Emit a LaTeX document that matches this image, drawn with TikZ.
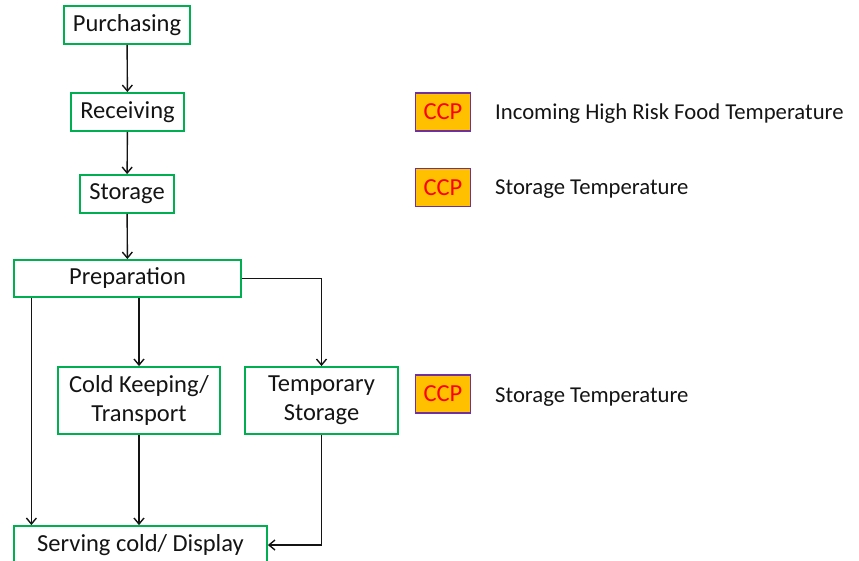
\documentclass[tikz,border=0pt]{standalone}
\usepackage{fontspec}
\setmainfont{Carlito}
\usepackage{tikz}
\usetikzlibrary{positioning, arrows.meta, calc}
\definecolor{verde}{RGB}{0, 176, 80}
\definecolor{ambar}{RGB}{255, 192, 0}
\definecolor{morado}{RGB}{112, 48, 160}
\definecolor{rojo}{RGB}{255, 0, 0}
\definecolor{tinta}{RGB}{20, 20, 20}
\tikzset{
    proc/.style={draw=verde, line width=1.8pt, fill=white, text=tinta, inner sep=0pt, align=center,
                 font=\fontsize{24.5}{29}\selectfont},
    ccp/.style={draw=morado, line width=1.8pt, fill=ambar, text=rojo, inner sep=0pt,
                minimum width=55pt, minimum height=38pt, font=\fontsize{24.5}{29}\selectfont},
    lbl/.style={anchor=west, text=tinta, inner sep=0pt, font=\fontsize{22.7}{27}\selectfont},
    conn/.style={-{Straight Barb[length=6pt, width=10pt]}, line width=1.4pt, tinta},
}

\begin{document}
\begin{tikzpicture}[x=1pt, y=-1pt]
    \path[use as bounding box, clip] (0,0) rectangle (859,561);

    % process steps
    \node[proc, minimum width=126pt, minimum height=38pt] (purch) at (127,25) {Purchasing};
    \node[proc, minimum width=113pt, minimum height=38pt] (recv) at (127.5,112) {Receiving};
    \node[proc, minimum width=94pt, minimum height=38pt] (stor) at (127,194) {Storage};
    \node[proc, minimum width=227pt, minimum height=37pt] (prep) at (127.5,278.5) {Preparation};
    \node[proc, minimum width=162pt, minimum height=67pt] (cold) at (139,400.5) {Cold Keeping/\\Transport};
    \node[proc, minimum width=153pt, minimum height=67pt] (temp) at (321.5,400.5) {Temporary\\Storage};
    \node[proc, minimum width=253pt, minimum height=38pt] (serve) at (140.5,545) {Serving cold/ Display};

    % critical control points
    \node[ccp] (ccp1) at (443,112) {CCP};
    \node[ccp] (ccp2) at (443,187.5) {CCP};
    \node[ccp] (ccp3) at (443,394) {CCP};
    \node[lbl] (txt1) at (495,113.5) {Incoming High Risk Food Temperature};
    \node[lbl] (txt2) at (495,189) {Storage Temperature};
    \node[lbl] (txt3) at (495,397) {Storage Temperature};

    \draw[conn] (purch) -- (recv);
    \draw[conn] (recv) -- (stor);
    \draw[conn] (stor) -- (prep);

    \draw[conn] (prep.east) -| (temp.north);
    \draw[conn] (cold.north |- prep.south) -- (cold.north);
    \coordinate (left) at ($(prep.south west)!0.08!(prep.south east)$);
    \draw[conn] (left) -- (left |- serve.north);

    \draw[conn] (cold.south) -- (cold.south |- serve.north);
    \draw[conn] (temp.south) |- (serve.east);
\end{tikzpicture}
\end{document}
